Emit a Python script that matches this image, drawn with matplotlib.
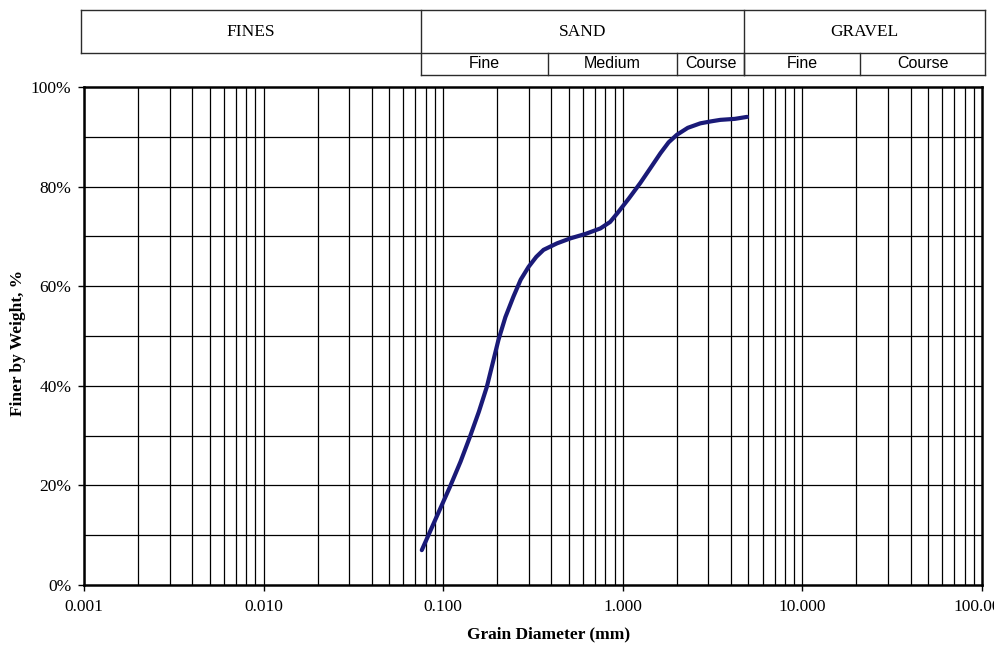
import matplotlib.pyplot as plt
import numpy as np
from matplotlib.ticker import FixedLocator, NullLocator

W, H = 995, 646

# grain size distribution
diameter = [0.076, 0.094, 0.109, 0.125, 0.141, 0.158, 0.175, 0.190, 0.203, 0.222, 0.246,
            0.270, 0.299, 0.330, 0.362, 0.43, 0.51, 0.62, 0.75, 0.85, 0.93, 1.08, 1.25,
            1.43, 1.62, 1.80, 2.00, 2.30, 2.70, 3.10, 3.49, 4.20, 4.92]
finer = [7.0, 14.5, 19.7, 24.8, 29.8, 34.8, 39.8, 45.0, 49.2, 53.8, 57.9,
         61.3, 63.9, 65.9, 67.3, 68.6, 69.6, 70.5, 71.6, 72.9, 74.6, 77.6, 80.7,
         83.8, 86.7, 88.9, 90.4, 91.8, 92.7, 93.1, 93.4, 93.6, 94.0]

x_ticks = [0.001, 0.01, 0.1, 1, 10, 100]
x_tick_labels = ['0.001', '0.010', '0.100', '1.000', '10.000', '100.000']
y_ticks = [0, 20, 40, 60, 80, 100]
y_tick_labels = ['0%', '20%', '40%', '60%', '80%', '100%']

# soil classification header (boundaries in mm)
main_groups = ['FINES', 'SAND', 'GRAVEL']
main_bounds = [0.001, 0.075, 4.75, 100]
sub_groups = ['Fine', 'Medium', 'Course', 'Fine', 'Course']
sub_bounds = [0.075, 0.385, 2.0, 4.75, 21.0, 100]

serif = 'Liberation Serif'
sans = 'Liberation Sans'

fig = plt.figure(figsize=(W / 100, H / 100), dpi=100)
ax = fig.add_axes([84 / W, 1 - 585 / H, (982 - 84) / W, (585 - 87) / H])

ax.set_xscale('log')
ax.set_xlim(0.001, 100)
ax.set_ylim(0, 100)

# grid: every 1..9 per decade and every 10%
vlines = [m * 10.0 ** e for e in range(-3, 2) for m in range(1, 10)]
for v in vlines:
    ax.axvline(v, color='black', lw=0.9, zorder=1)
for h in range(10, 100, 10):
    ax.axhline(h, color='black', lw=0.9, zorder=1)

ax.plot(diameter, finer, color='#1a1a78', lw=3.0, solid_capstyle='round',
        solid_joinstyle='round', zorder=3)

ax.xaxis.set_major_locator(FixedLocator(x_ticks))
ax.xaxis.set_minor_locator(NullLocator())
ax.set_xticklabels(x_tick_labels, fontfamily=serif, fontsize=12.5)
ax.set_yticks(y_ticks)
ax.set_yticklabels(y_tick_labels, fontfamily=serif, fontsize=12.5)
ax.tick_params(axis='both', direction='out', length=4, width=1.0, colors='black')
ax.tick_params(axis='x', pad=6)
ax.tick_params(axis='y', pad=5)
for s in ax.spines.values():
    s.set_linewidth(1.8)
    s.set_zorder(4)

fig.text(549 / W, 1 - 634 / H, 'Grain Diameter (mm)', ha='center', va='center',
         fontfamily=serif, fontweight='bold', fontsize=12.5)
fig.text(18 / W, 1 - 343 / H, 'Finer by Weight, %', ha='center', va='center',
         rotation=90, fontfamily=serif, fontweight='bold', fontsize=12.5)

# header table
hx = fig.add_axes([81 / W, 1 - 75 / H, (985 - 81) / W, (75 - 10) / H])
hx.set_xscale('log')
ext = 3 / 179.5
hx.set_xlim(10 ** (-3 - ext), 10 ** (2 + ext))
hx.set_ylim(0, 1)
hx.axis('off')
xl, xr = hx.get_xlim()
mid = (75 - 53) / 65
lc = '#2b2b2b'
lw = 1.0
hx.plot([xl, xr], [1, 1], color=lc, lw=lw, clip_on=False)
hx.plot([xl, xr], [mid, mid], color=lc, lw=lw, clip_on=False)
hx.plot([sub_bounds[0], xr], [0, 0], color=lc, lw=lw, clip_on=False)
hx.plot([xl, xl], [mid, 1], color=lc, lw=lw, clip_on=False)
hx.plot([xr, xr], [0, 1], color=lc, lw=lw, clip_on=False)
for b in main_bounds[1:-1]:
    hx.plot([b, b], [0, 1], color=lc, lw=lw, clip_on=False)
for b in sub_bounds[1:-1]:
    hx.plot([b, b], [0, mid], color=lc, lw=lw, clip_on=False)

edges = [xl] + main_bounds[1:-1] + [xr]
for i, name in enumerate(main_groups):
    xc = np.sqrt(edges[i] * edges[i + 1])
    hx.text(xc, (mid + 1) / 2, name, ha='center', va='center',
            fontfamily=serif, fontsize=12.5)
sub_edges = sub_bounds[:-1] + [xr]
for i, name in enumerate(sub_groups):
    xc = np.sqrt(sub_edges[i] * sub_edges[i + 1])
    hx.text(xc, mid / 2, name, ha='center', va='center',
            fontfamily=sans, fontsize=11.5)

fig.savefig('out.png', dpi=100)
